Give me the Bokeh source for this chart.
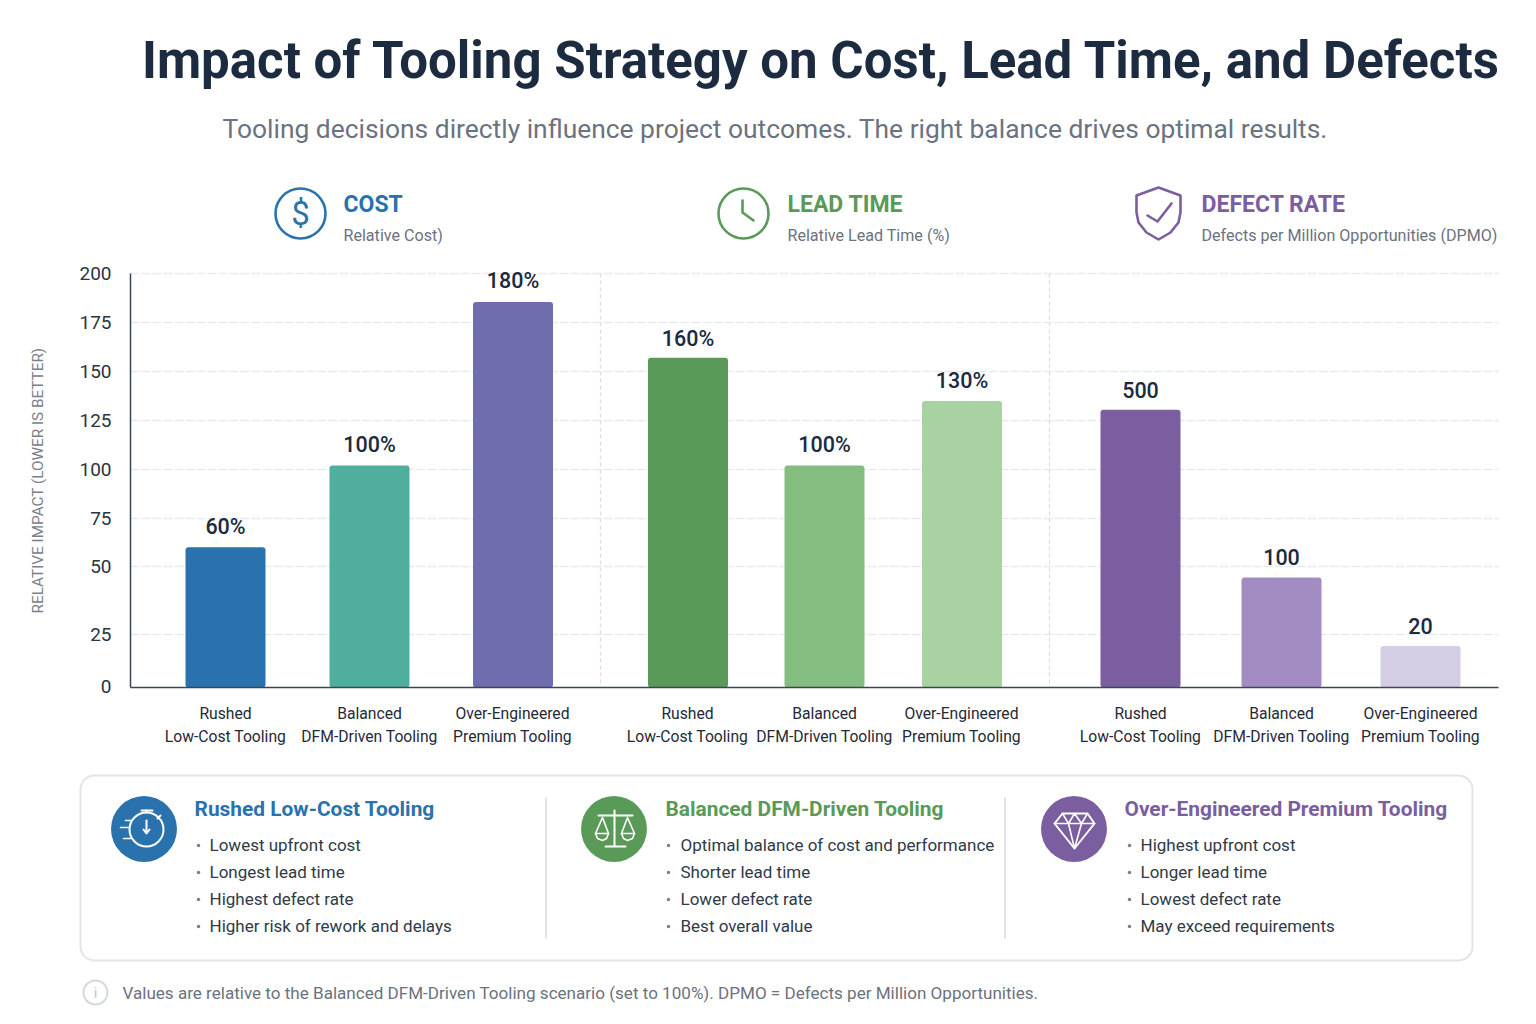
import numpy as np
from bokeh.core.properties import value
from bokeh.embed import file_html
from bokeh.resources import INLINE
from bokeh.plotting import figure
from bokeh.models import LinearAxis, FixedTicker, Range1d

# ---------- chart data ----------
scenario_labels = ["Rushed\nLow-Cost Tooling", "Balanced\nDFM-Driven Tooling", "Over-Engineered\nPremium Tooling"]
cost_values = [60, 102, 185.5]
lead_values = [157, 102, 135]
defect_values = [130.5, 46, 19.5]
cost_labels = ["60%", "100%", "180%"]
lead_labels = ["160%", "100%", "130%"]
defect_labels = ["500", "100", "20"]
axis_ticks = [0, 25, 50, 75, 100, 125, 150, 175, 200]

# ---------- texts ----------
title = "Impact of Tooling Strategy on Cost, Lead Time, and Defects"
subtitle = "Tooling decisions directly influence project outcomes. The right balance drives optimal results."
panel_titles = ["COST", "LEAD TIME", "DEFECT RATE"]
panel_subs = ["Relative Cost)", "Relative Lead Time (%)", "Defects per Million Opportunities (DPMO)"]
y_title = "RELATIVE IMPACT (LOWER IS BETTER)"
card_titles = ["Rushed Low-Cost Tooling", "Balanced DFM-Driven Tooling", "Over-Engineered Premium Tooling"]
card_items = [
    ["Lowest upfront cost", "Longest lead time", "Highest defect rate", "Higher risk of rework and delays"],
    ["Optimal balance of cost and performance", "Shorter lead time", "Lower defect rate", "Best overall value"],
    ["Highest upfront cost", "Longer lead time", "Lowest defect rate", "May exceed requirements"],
]
footnote = "Values are relative to the Balanced DFM-Driven Tooling scenario (set to 100%). DPMO = Defects per Million Opportunities."

# ---------- layout and style ----------
FONT = value("Roboto")
BLUE, GREEN, PURPLE = "#2a72ad", "#5a9a58", "#7b5e9f"
DARK, GREY = "#1c2b3f", "#6b7280"
axis_px = [686, 634, 566, 518, 469, 420, 371, 322, 273]   # the reference axis is not evenly spaced at the bottom
BASE = 687
bar_x = [225, 369, 512.5, 687.5, 824, 961.5, 1140, 1281, 1420]
bar_colors = ["#2a72ad", "#4fae9d", "#6f6dae", "#5a9a58", "#83bd7f", "#a8d2a2", "#7b5e9f", "#a38bc3", "#d4cde4"]
label_px = [526, 444, 280, 338, 444, 380, 389, 556, 625]

p = figure(width=1520, height=1008, output_backend="svg", toolbar_location=None,
           x_range=Range1d(0, 1520), y_range=Range1d(1008, 0),
           x_axis_location=None, y_axis_location=None,
           min_border=0, outline_line_color=None, background_fill_color="white", border_fill_color="white")
p.grid.visible = False


def to_px(v):
    return np.interp(v, axis_ticks, axis_px)


def text(x, y, s, size, color, style="normal", align="left", angle=0):
    p.text([x], [y - 1], text=[s], text_font=FONT, text_font_size=f"{size}px", text_color=color,
           text_font_style=style, text_align=align, text_baseline="middle", angle=angle)


def stroke(xs, ys, color="white", w=2.0):
    p.line(xs, ys, line_color=color, line_width=w, line_cap="round", line_join="round")


# ---------- chart ----------
grid_px = axis_px[1:]
p.segment([130] * len(grid_px), grid_px, [1498] * len(grid_px), grid_px,
          line_color="#e8e9ed", line_width=1.5, line_dash="9 2")
p.segment([600, 1049], [273, 273], [600, 1049], [BASE, BASE], line_color="#dcdde2", line_width=1.2, line_dash="4 3")

values = cost_values + lead_values + defect_values
tops = to_px(values)
p.vbar(x=bar_x, width=80, bottom=BASE, top=tops, fill_color=bar_colors, line_color=None, border_radius=3)

value_labels = cost_labels + lead_labels + defect_labels
p.text(x=bar_x, y=label_px, text=value_labels, text_font=value("Roboto Medium"), text_font_size="21.5px",
       text_color=DARK, text_align="center", text_baseline="middle")

yaxis = LinearAxis(fixed_location=130, bounds=(273, BASE), ticker=FixedTicker(ticks=axis_px),
                   major_label_overrides={px: str(t) for px, t in zip(axis_px, axis_ticks)},
                   major_tick_line_color=None, minor_tick_line_color=None, major_label_standoff=13,
                   major_label_text_font="Roboto", major_label_text_font_size="19px", major_label_text_color="#2a3442",
                   axis_line_color="#3a4654", axis_line_width=1.5)
p.add_layout(yaxis, "left")
xaxis = LinearAxis(fixed_location=BASE, bounds=(130, 1498), ticker=FixedTicker(ticks=[int(x) for x in bar_x]),
                   major_label_overrides={int(x): scenario_labels[i % 3] for i, x in enumerate(bar_x)},
                   major_tick_line_color=None, minor_tick_line_color=None, major_label_standoff=10,
                   major_label_text_font="Roboto", major_label_text_font_size="15.7px", major_label_text_color="#1f2937",
                   major_label_text_line_height=1.24,
                   axis_line_color="#3a4654", axis_line_width=1.5)
p.add_layout(xaxis, "below")

text(37, 481, y_title, 15.3, "#7b8088", align="center", angle=np.pi / 2)

# ---------- heading ----------
text(141.5, 61, title, 51, DARK, "bold")
text(222, 129, subtitle, 26.4, GREY)

for x, t, s, c in zip([343, 787, 1201], panel_titles, panel_subs, [BLUE, GREEN, PURPLE]):
    text(x, 205, t, 23, c, "bold")
    text(x, 236, s, 16.1, GREY)

# header icons
p.circle([300, 743], [213, 213], radius=25, fill_color=None, line_color=[BLUE, GREEN], line_width=2.6)
text(300, 214, "$", 33, BLUE, align="center")
stroke([742, 742, 753], [200, 212, 220], GREEN, 2.6)
stroke([1158, 1180, 1180, 1178, 1170, 1158, 1146, 1138, 1136, 1136, 1158],
       [187, 195, 212, 222, 232, 239, 232, 222, 212, 195, 187], PURPLE, 2.6)
stroke([1147, 1157, 1171], [215, 221, 203], PURPLE, 2.6)

# ---------- cards ----------
p.quad(left=80, right=1472, top=775, bottom=960, fill_color="white", line_color="#e2e4e8", line_width=2, border_radius=14)
p.segment([545.5, 1004.5], [797, 797], [545.5, 1004.5], [938, 938], line_color="#d8dadf", line_width=1.5)

for cx, c, head_x, dot_x, item_x, t, items in zip(
        [143.5, 613.5, 1073.5], [BLUE, GREEN, PURPLE], [194, 665, 1124], [198, 668, 1129], [209, 680, 1140],
        card_titles, card_items):
    p.circle([cx], [828.5], radius=33, fill_color=c, line_color=None)
    text(head_x, 809, t, 20.9, c, "bold")
    ys = [845, 872, 899, 926]
    p.scatter([dot_x] * 4, ys, size=3.5, marker="circle", fill_color="#7b8088", line_color=None)
    for y, s in zip(ys, items):
        text(item_x, y, s, 17, "#2f3a48")

# stopwatch
p.circle([146], [829], radius=17, fill_color=None, line_color="white", line_width=2)
stroke([141, 152], [810, 810])
stroke([146, 146], [810, 812])
stroke([157, 160], [818, 815])
stroke([146, 146], [820, 832])
stroke([143, 146, 149], [829, 833, 829])
stroke([120, 128], [827, 827], w=1.6)
stroke([125, 130], [820, 820], w=1.6)
stroke([123, 130], [838, 838], w=1.6)

# scales
stroke([614, 614], [810, 845])
stroke([605, 625], [846, 846])
stroke([598, 632], [815, 815])
for a, l, r in [(602, 595, 608), (627, 621, 634)]:
    stroke([l, a, r], [833, 817, 833], w=1.6)
    stroke([l, l + 2, a, r - 2, r, l], [833, 838, 840, 838, 833, 833], w=1.6)

# diamond
stroke([1062, 1087, 1094, 1074, 1054, 1062], [813, 813, 823, 848, 823, 813])
stroke([1054, 1094], [823, 823], w=1.6)
stroke([1062, 1068, 1074, 1081, 1087], [813, 823, 813, 823, 813], w=1.6)
stroke([1068, 1074, 1081], [823, 848, 823], w=1.6)

# ---------- footnote ----------
p.circle([95], [992], radius=12, fill_color=None, line_color="#d5d7db", line_width=2)
text(95, 993, "i", 15, "#c4c7cc", align="center")
text(122, 993, footnote, 17.07, GREY)

open("out.html", "w").write(file_html(p, INLINE))
